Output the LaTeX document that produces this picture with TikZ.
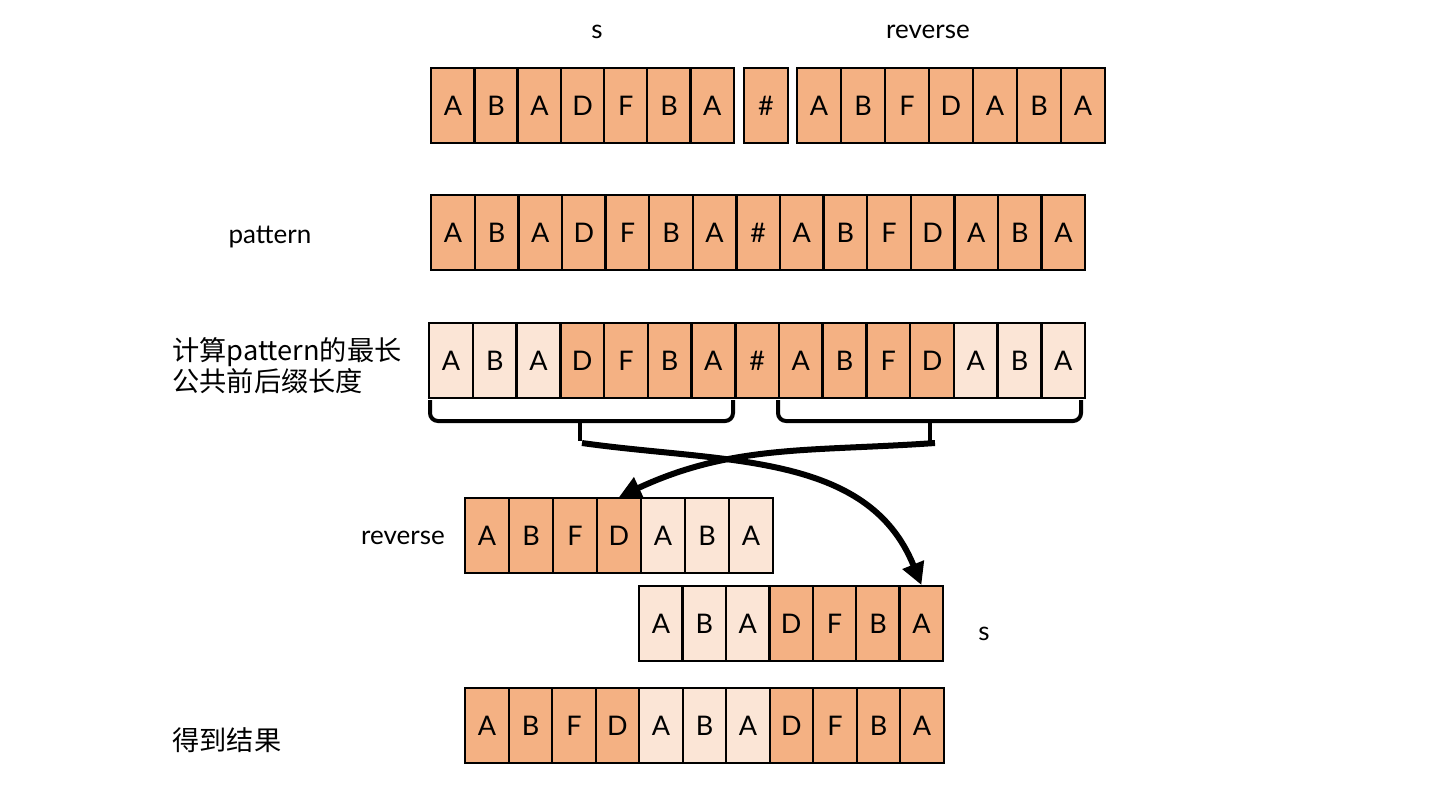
\documentclass[tikz,border=0pt]{standalone}
\usepackage{fontspec}
\setmainfont{Lato}
\newfontfamily\cjk{Noto Sans CJK SC}
\usetikzlibrary{arrows.meta}
\definecolor{celldark}{HTML}{F4B183}
\definecolor{celllight}{HTML}{FBE5D6}
\tikzset{
  cell/.style={draw=black,line width=1.2pt,anchor=north west,minimum width=21.8pt,
    minimum height=37.5pt,inner sep=0pt,font=\fontsize{13.5}{15}\selectfont},
  d/.style={cell,fill=celldark},
  l/.style={cell,fill=celllight},
  lbl/.style={font=\fontsize{13}{15}\selectfont},
  bracket/.style={line width=2pt,rounded corners=4pt},
  jump/.style={line width=3pt,-{Triangle[length=11pt,width=11pt]}}
}
\begin{document}
\begin{tikzpicture}[x=0.5pt,y=-0.5pt]
\useasboundingbox (0,0) rectangle (1440,810);
% row 1: s # reverse
\foreach \c [count=\i] in {A,B,A,D,F,B,A}
  \node[d] (s-\i) at ({430+(\i-1)*43.2},67) {\c};
\node[d] (sep) at (743,67) {\#};
\foreach \c [count=\i] in {A,B,F,D,A,B,A}
  \node[d] (rv-\i) at ({796+(\i-1)*44},67) {\c};
\node[lbl] (lab-s) at (597,32) {s};
\node[lbl] (lab-rv) at (928,32) {reverse};
% row 2: pattern
\foreach \c [count=\i] in {A,B,A,D,F,B,A,\#,A,B,F,D,A,B,A}
  \node[d] (p-\i) at ({430+(\i-1)*43.6},194) {\c};
\node[lbl] (lab-p) at (270,237) {pattern};
% row 3: prefix / suffix
\foreach \c/\f [count=\i] in {A/l,B/l,A/l,D/d,F/d,B/d,A/d,\#/d,A/d,B/d,F/d,D/d,A/l,B/l,A/l}
  \node[\f] (q-\i) at ({428+(\i-1)*43.73},322) {\c};
\node[lbl,anchor=west,align=left,inner sep=0pt,font=\cjk\fontsize{13.6}{15.5}\selectfont] (lab-q) at (172,366) {计算pattern的最长\\公共前后缀长度};
% brackets
\draw[bracket] (430,400) -- (430,421) -- (733,421) -- (733,400);
\draw[bracket] (580,421) -- (580,441);
\draw[bracket] (778,400) -- (778,421) -- (1081,421) -- (1081,400);
\draw[bracket] (930,421) -- (930,441);
\coordinate (tip-l) at (582,443);
\coordinate (tip-r) at (935,443);
% row 4: reverse
\foreach \c/\f [count=\i] in {A/d,B/d,F/d,D/d,A/l,B/l,A/l}
  \node[\f] (r-\i) at ({464+(\i-1)*44},497) {\c};
\node[lbl] (lab-r) at (403,538) {reverse};
% row 5: s
\foreach \c/\f [count=\i] in {A/l,B/l,A/l,D/d,F/d,B/d,A/d}
  \node[\f] (t-\i) at ({638+(\i-1)*43.4},585) {\c};
\node[lbl] (lab-t) at (984,634) {s};
% arrows
\draw[jump] (tip-l) to[out=-8,in=112] (t-7.north);
\draw[jump] (tip-r) to[out=184,in=25] (r-4.north);
% row 6: result
\foreach \c/\f [count=\i] in {A/d,B/d,F/d,D/d,A/l,B/l,A/l,D/d,F/d,B/d,A/d}
  \node[\f] (res-\i) at ({464+(\i-1)*43.5},687) {\c};
\node[lbl,anchor=west,inner sep=0pt,font=\cjk\fontsize{13.6}{15}\selectfont] (lab-res) at (172,740) {得到结果};
\end{tikzpicture}
\end{document}
